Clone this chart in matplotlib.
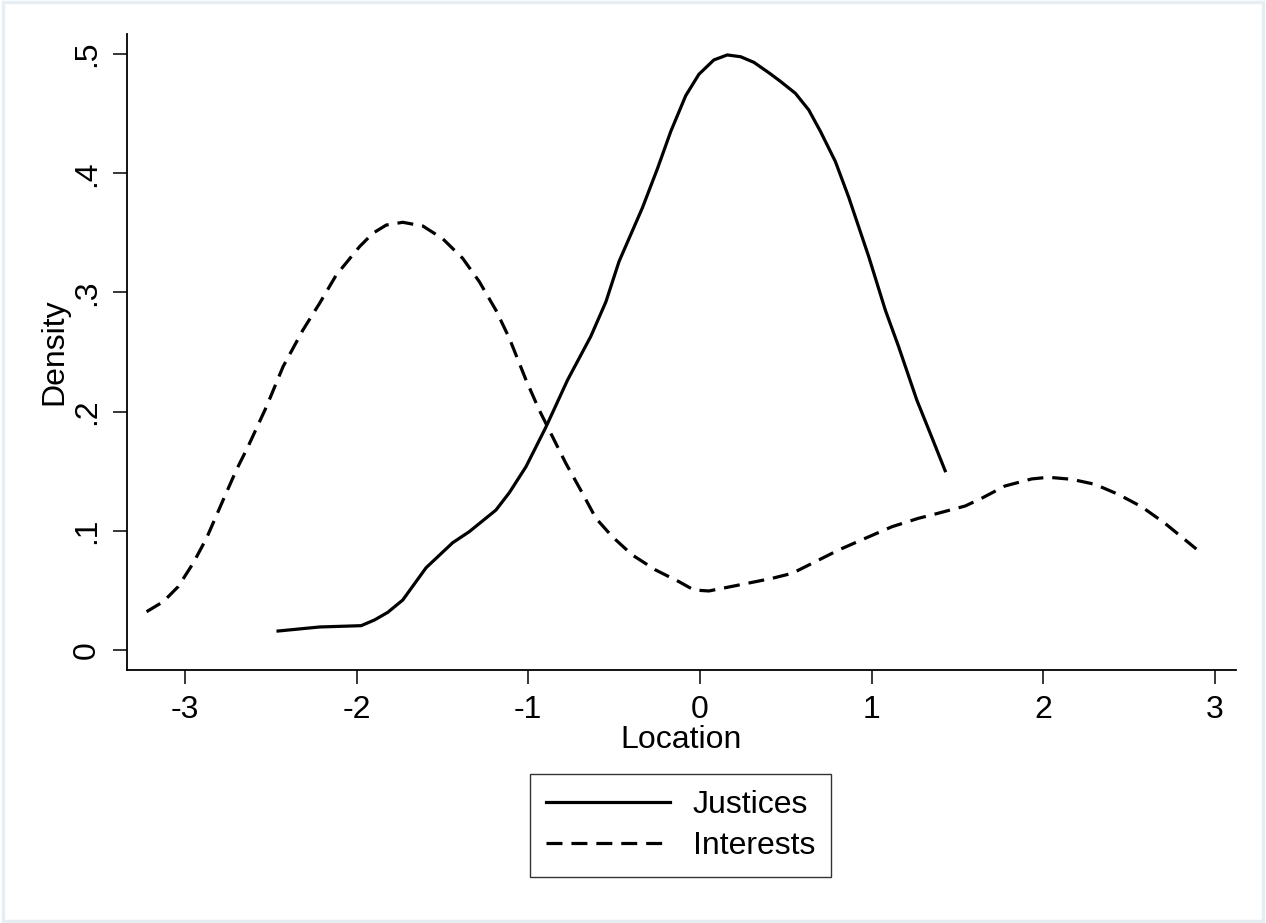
import numpy as np
import matplotlib
matplotlib.use('Agg')
import matplotlib.pyplot as plt
from matplotlib.patches import Rectangle

plt.rcParams['font.family'] = ['Liberation Sans', 'DejaVu Sans']
plt.rcParams['axes.unicode_minus'] = False

# Curvas de densidad
justices_x = [-2.457, -2.215, -1.973, -1.895, -1.818, -1.731, -1.595, -1.44, -1.343,
              -1.188, -1.11, -1.013, -0.897, -0.771, -0.636, -0.548, -0.471, -0.335,
              -0.247, -0.17, -0.083, -0.006, 0.081, 0.159, 0.237, 0.314, 0.401, 0.469,
              0.556, 0.634, 0.702, 0.789, 0.866, 0.983, 1.08, 1.157, 1.263, 1.341, 1.428]
justices_y = [0.0159, 0.0193, 0.0204, 0.0252, 0.0316, 0.0419, 0.069, 0.090, 0.0993,
              0.1174, 0.132, 0.1538, 0.187, 0.2265, 0.263, 0.292, 0.326, 0.371,
              0.404, 0.435, 0.465, 0.483, 0.495, 0.4992, 0.4977, 0.493, 0.4843, 0.477,
              0.467, 0.453, 0.435, 0.4097, 0.380, 0.330, 0.285, 0.2545, 0.2097, 0.1818, 0.1504]

interests_x = [-3.223, -3.126, -3.039, -2.952, -2.874, -2.777, -2.7, -2.632, -2.525,
               -2.428, -2.312, -2.215, -2.118, -1.983, -1.905, -1.827, -1.731, -1.614,
               -1.498, -1.382, -1.285, -1.188, -1.11, -1.013, -0.936, -0.859, -0.781,
               -0.684, -0.606, -0.51, -0.394, -0.258, -0.122, -0.035, 0.052, 0.227,
               0.42, 0.537, 0.673, 0.808, 0.963, 1.118, 1.273, 1.351, 1.545, 1.641,
               1.777, 1.932, 2.029, 2.165, 2.3, 2.436, 2.572, 2.708, 2.891]
interests_y = [0.0321, 0.0405, 0.0531, 0.0727, 0.0937, 0.1258, 0.151, 0.1706, 0.204,
               0.2377, 0.2685, 0.2909, 0.3146, 0.3383, 0.3496, 0.3565, 0.3588, 0.3557,
               0.345, 0.3286, 0.309, 0.285, 0.2615, 0.2265, 0.2013, 0.179, 0.1566,
               0.1314, 0.1105, 0.095, 0.0797, 0.0671, 0.0573, 0.0503, 0.0495, 0.0545,
               0.0601, 0.0643, 0.0741, 0.0839, 0.0937, 0.1034, 0.1105, 0.1133, 0.1208, 0.1273,
               0.1376, 0.1435, 0.1449, 0.1432, 0.139, 0.1306, 0.1202, 0.1063, 0.0847]

xticks = [-3, -2, -1, 0, 1, 2, 3]
xticklabels = ['-3', '-2', '-1', '0', '1', '2', '3']
yticks = [0, 0.1, 0.2, 0.3, 0.4, 0.5]
yticklabels = ['0', '.1', '.2', '.3', '.4', '.5']

fig = plt.figure(figsize=(12.66, 9.23), dpi=100)
ax = fig.add_axes([0.1003, 0.2741, 0.876, 0.6891])

ax.plot(justices_x, justices_y, color='black', lw=2.3, label='Justices')
ax.plot(interests_x, interests_y, color='black', lw=2.3, dashes=(5.0, 2.8),
        label='Interests')

ax.set_xlim(-3.337, 3.122)
ax.set_ylim(-0.0168, 0.5168)
ax.set_xticks(xticks)
ax.set_xticklabels(xticklabels)
ax.set_yticks(yticks)
ax.set_yticklabels(yticklabels, rotation=90, va='center')

for s in ['top', 'right']:
    ax.spines[s].set_visible(False)
for s in ['left', 'bottom']:
    ax.spines[s].set_linewidth(1.3)
ax.tick_params(axis='both', direction='out', length=10, width=1.1, labelsize=23, pad=8)

ax.set_xlabel('Location', fontsize=23, labelpad=0)
ax.set_ylabel('Density', fontsize=23, labelpad=2)

leg = fig.legend(loc='upper center', bbox_to_anchor=(0.5375, 0.1614), fontsize=23,
                 frameon=True, fancybox=False, handlelength=3.9, handletextpad=0.7,
                 borderpad=0.5, labelspacing=0.35, borderaxespad=0)
leg.get_frame().set_edgecolor('black')
leg.get_frame().set_linewidth(1.0)

# marco exterior gris claro
fig.patches.append(Rectangle((0.002, 0.002), 0.996, 0.996, transform=fig.transFigure,
                             fill=False, edgecolor='#e6edf3', linewidth=2.5))

fig.savefig('out.png', dpi=100)
